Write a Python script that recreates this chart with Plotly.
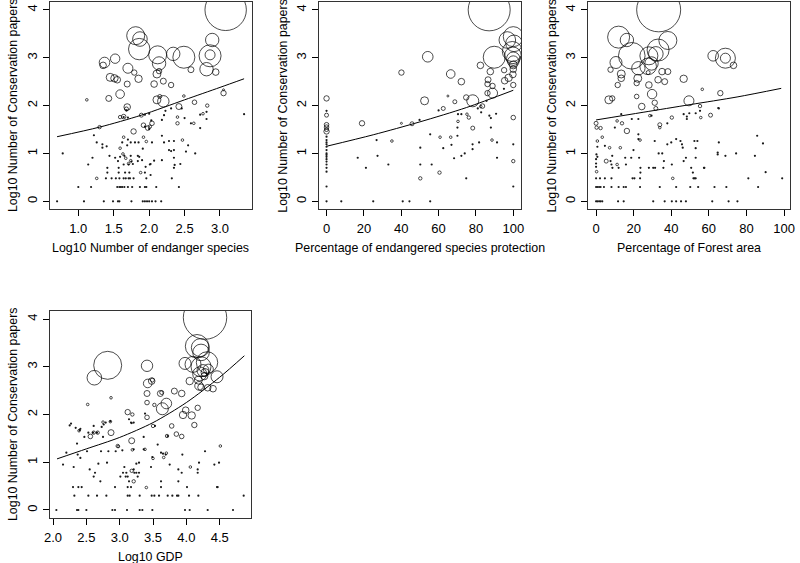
import plotly.graph_objects as go

# ---------------- DATA ----------------
# Panel 1: Log10 Number of endanger species
p1_bx = [3.08,1.81,1.87,1.86,2.12,2.14,2.34,2.49,2.89,2.86,2.86,2.81,2.94,2.59,1.37,1.35,1.52,1.70,1.79,1.45,
         1.51,1.55,1.85,1.59,1.69,1.43,2.11,2.14,2.07,2.20,2.31,2.20,2.11,2.15,2.42,2.64,3.05,3.05,1.12,1.69,
         1.68,1.64,1.59,1.89,1.78,1.92,1.98,2.01,2.04,1.30,2.40,2.40,2.82,2.76,2.63,1.64,1.92,1.96,2.47,1.63,
         1.59,1.67,1.74,1.71,1.26,1.88,2.49]
p1_by = [4.00,3.46,3.39,3.18,3.06,2.88,3.08,3.01,3.37,3.04,3.06,2.76,2.70,2.75,2.90,2.84,2.98,2.78,2.69,2.59,
         2.57,2.54,2.56,2.24,2.45,2.15,2.66,2.72,2.45,2.51,2.43,2.09,2.12,2.19,1.98,2.07,2.26,2.33,2.12,1.97,
         1.93,1.77,1.76,1.80,1.46,1.59,1.53,1.56,1.63,1.55,1.63,1.76,2.00,1.83,1.63,1.34,1.34,1.25,1.28,0.99,
         1.11,0.90,0.85,0.79,0.48,0.60,2.20]
p1_bw = [20.7,9,7.3,10.7,9,6.7,6.7,11,6.7,11,5,6.7,3.3,3,5.3,3.3,4.7,5,2.7,4,
         3.7,3.3,3.7,4.3,3,3,4,2.7,3.3,3,2.7,5.7,4,2,3,2.3,2.7,1,1.3,3.3,
         2,2.3,1.7,2,2.7,2.3,2.3,1.7,2.3,1.7,1.7,1.3,1.7,1.3,1.3,1.3,1.3,1.3,1.3,1.3,
         1.3,1.3,1.3,1.3,1.3,1.3,1.3]
p1_dx = [0.70,1.08,1.36,1.49,1.56,1.58,1.75,1.91,1.94,1.97,2.00,2.04,2.09,2.17,
         1.00,1.18,1.55,1.58,1.60,1.62,1.65,1.70,1.76,1.87,1.94,1.96,2.10,2.42,
         1.39,1.47,1.53,1.58,1.64,1.67,1.71,1.73,1.78,1.96,2.32,
         1.41,1.57,1.66,1.72,1.94,2.02,1.41,1.57,1.95,2.35,1.14,1.64,1.71,1.77,2.01,2.02,2.36,2.44,
         1.56,1.75,1.84,1.90,2.07,2.18,1.20,1.52,2.35,1.44,1.59,1.65,1.74,1.84,1.86,0.78,2.65,2.28,2.35,
         1.34,1.91,1.34,1.40,1.69,2.55,1.26,1.62,1.74,1.80,1.85,2.04,2.21,1.70,2.28,2.35,1.22,2.18,
         1.94,2.00,2.72,2.59,2.03,2.18,2.50,1.64,1.70,2.81,1.94,2.00,2.21,2.72,3.34,2.81,1.68,2.23,2.31,2.46,
         2.31,2.52]
p1_dy = [0]*14 + [0.30]*14 + [0.48]*11 + \
        [0.60,0.60,0.60,0.60,0.60,0.55,0.70,0.70,0.72,0.70,0.77,0.77,0.77,0.78,0.77,0.78,0.76,0.78,
         0.84,0.83,0.84,0.86,0.85,0.86,0.91,0.91,0.91,0.95,0.93,0.95,0.95,0.95,0.93,1.00,1.00,1.07,1.07,
         1.12,1.10,1.19,1.15,1.17,1.17,1.23,1.23,1.23,1.23,1.23,1.23,1.23,1.29,1.26,1.26,1.38,1.37,
         1.56,1.51,1.53,1.63,1.69,1.70,1.74,1.76,1.75,1.72,1.81,1.83,1.80,1.81,1.82,1.87,1.90,1.89,1.94,1.94,
         1.05,1.04]
p1_fit_x = [0.70,1.30,1.89,2.50,3.00,3.34]
p1_fit_y = [1.35,1.55,1.80,2.12,2.38,2.56]

# Panel 2: Percentage of endangered species protection
p2_bx = [87.1,100,96.8,100.4,89.8,99.5,99.8,100,100,100,100,99.8,95.4,100,54.2,40.1,66.5,72.2,82.4,87.7,
         86.5,86.2,88.9,88.9,86.2,95.1,78.3,74.8,68.7,83.5,62.5,52.5,65,0,0,0,0,0,0,19,
         45.8,40.1,35,78.3,76.2,100,70.4,60.8,66.5,88.6,60.5,100,50.2,75.2,82.6,97.5]
p2_by = [4.00,3.44,3.37,3.30,3.01,3.13,3.05,2.98,2.92,2.85,2.76,2.65,2.52,2.43,3.02,2.69,2.66,2.50,2.84,2.71,
         2.54,2.45,2.41,2.26,2.26,2.74,2.10,2.17,2.08,1.99,1.94,2.10,2.20,2.15,1.80,1.60,1.55,1.50,1.46,1.63,
         1.62,1.63,1.26,1.53,1.75,1.75,1.67,1.34,1.34,1.28,0.60,0.84,0.48,1.82,1.98,2.58]
p2_bw = [21,10,8.3,8.3,11,10,8.3,6.7,5.7,4,3.3,3.3,3.3,2.7,5.3,2.7,4.3,3.3,3.3,3.3,
         3,2.7,2.7,5,2.7,2.7,6,2.7,2,2.3,2,4,1,2.7,2,2.3,2.3,2,2.7,2.7,
         2,1,1.3,2,1.7,2.3,1.3,1.3,1.3,1.3,1.7,1.7,1.7,1.3,1.3,3.7]
p2_dx = [0]*17 + [7.9,25,40.8,44.4,55.5,16.7,21.1,26.8,27.3,33.1,49.8,50.2,50.2,55.5,56.3,62.5,60,66.9,68.3,
         70.1,70.1,70.4,72.2,72.2,74,74.8,78.2,78.2,81,81.7,82.8,87.2,88,88,90.8,91.3,91.3,100,100,95,85.7]
p2_dy = [1.89,1.35,1.28,1.23,1.19,1.14,1.07,1.00,0.97,0.93,0.88,0.83,0.77,0.70,0.62,0.31,0.00] + \
        [0,0,0,0,0,0.91,0.70,1.28,0.95,0.77,1.70,1.12,0.77,1.40,0.77,1.11,1.90,1.18,0.90,
         1.54,1.37,1.82,1.82,0.95,1.00,0.48,1.19,1.09,1.94,1.23,1.86,1.79,1.54,1.74,1.83,1.23,0.91,1.19,0.31,2.35,2.10]
p2_fit_x = [0,25,50,75,100]
p2_fit_y = [1.15,1.39,1.66,1.96,2.32]

# Panel 3: Percentage of Forest area
p3_bx = [33.3,12.0,16.4,38.2,19.0,28.1,33.0,31.8,29.5,27.7,22.5,10.6,62.3,68.8,68.8,73.1,7.7,13.4,13.4,22.2,
         21.6,35.1,38.2,27.7,33.0,36.5,28.1,46.6,11.5,29.8,21.6,31.2,24.3,6.8,8.6,49.4,56.5,66.1,55.3,0,
         0.3,2.4,11.2,13.8,16.4,28.6,33.9,33.9,40.3,55.7,60.9,0.7,3.3,7.2,12.9,0.3,5.4,11.2,23.4,40.8,31.8]
p3_by = [4.00,3.43,3.37,3.36,3.04,3.04,3.16,3.08,2.88,2.82,2.78,2.90,3.04,2.99,2.99,2.84,2.75,2.66,2.57,2.57,
         2.47,2.71,2.71,2.69,2.54,2.50,2.43,2.56,2.43,2.24,2.19,2.06,1.98,2.12,2.15,2.10,2.34,2.26,1.99,1.63,
         1.54,1.53,1.68,1.63,1.47,1.79,1.60,1.54,1.75,1.75,1.80,1.26,1.34,1.12,1.12,0.62,0.84,0.77,1.28,0.48,1.94]
p3_bw = [22,11,6.7,9,13.3,9,11,7.3,6.7,8.3,6.7,6,5.3,10,5,3.3,2.7,4,3.3,4,
         2.7,3.3,3,2,3.3,3,3.3,3.7,2.7,4.7,2.3,2.7,3.3,4,2.7,5,1.3,2.7,1.7,2,
         1.7,1.7,1.3,1.7,2.7,1.3,2,1.3,1.7,1.3,2,1.3,1.3,1.3,1.3,1.3,2,1.3,1.3,1.3,2]
p3_dx = [0,2.1,4.7,8.2,19.4,20.4,23.4,51.8,53,81,99] + \
        [0,0.7,1.6,2.4,4.2,8.2,12,14.7,15.9,23.4,33.9,42.6,50.1,54.3,63,69.3,86.2] + \
        [0,0.7,1.6,2.4,3.3,11.7,14.7,30.4,36.5,40.3,42.6,45.2,47.8,61.8,70.5,75.2] + \
        [13.4,10,19,22.5,29.5,37.9,46.6,48.3,48.3,49.6,53,55.3,65.3,4.7,0.7,0.2,0.7,0,0,0,
         7.7,8.2,12,8.6,15.5,15.9,18.7,22.9,19.9,22.5,22.5,28.1,30.4,31.2,33.3,36.1,37.9,40.3,40,42.6,
         44.9,45.7,46.1,46.6,47.8,52.3,53,53.9,53,57.4,64.7,64.7,65.3,68.8,74.5,84.5,85.7,88.8,90.2,23.6,
         51.5,8.7,23.6,31.4,35.8,50.6,57.6,52.4,65,35.2]
p3_dy = [0.48]*11 + [0.30]*17 + [0]*16 + \
        [1.82,1.54,1.72,1.72,1.79,1.63,1.82,1.77,1.72,1.84,1.84,1.89,1.94,1.16,1.14,0.98,0.93,0.88,0.79,0.72,
         0.84,0.77,0.70,0.95,0.91,0.77,0.91,0.91,1.07,1.40,1.30,0.70,0.70,1.26,1.00,0.84,1.19,0.77,1.23,1.30,
         1.26,1.19,1.12,0.84,0.91,1.26,1.11,1.26,0.91,0.70,1.02,0.98,1.23,0.95,1.00,0.95,1.37,1.21,0.61,0.60,
         0.60,0.70,0.70,0.70,0.70,0.70,0.70,0.48,1.95,1.00]
p3_fit_x = [0,25,50,75,98.5]
p3_fit_y = [1.70,1.86,2.02,2.18,2.36]

# Panel 4: Log10 GDP
p4_bx = [4.28,4.16,4.21,4.22,2.82,2.62,3.41,3.42,3.48,3.49,3.98,4.31,4.22,4.10,4.25,4.20,4.28,4.33,4.27,4.46,
         4.18,4.05,4.19,4.22,4.32,4.40,2.87,2.52,3.41,3.61,3.63,3.82,3.93,3.70,3.64,3.41,3.52,3.99,4.17,3.12,
         3.19,3.41,3.50,3.95,4.08,4.12,3.78,3.85,3.93,3.71,2.87,2.56,2.61,2.67,3.18,2.97,2.75,2.39,2.86,3.19,
         3.38,3.50,3.70,3.66,3.18,3.21,3.40,4.51,4.06,2.98]
p4_by = [4.03,3.43,3.40,3.30,3.03,2.77,3.02,2.65,2.70,2.72,3.07,3.09,3.00,3.05,2.92,2.85,2.88,2.95,2.80,2.79,
         2.72,2.70,2.60,2.57,2.56,2.54,2.35,2.21,2.44,2.44,2.46,2.49,2.44,2.23,2.12,2.25,2.20,2.09,2.14,2.05,
         2.00,1.94,1.76,1.99,1.98,1.78,1.76,1.59,1.54,1.55,1.62,1.54,1.62,1.62,1.45,1.34,1.84,1.66,1.85,1.26,
         1.27,1.08,1.19,1.10,0.82,0.60,0.47,1.34,0.90,1.33]
p4_bw = [21.7,11.7,9,8.3,14,7.3,5.7,4.3,3.3,2,6,10.7,10,8,6,7,4,5,3.5,6,
         4,3.7,4.3,3.3,3.3,3.3,1.3,1.3,3,3,2,3,3.3,5.3,6,2.3,1.7,3.3,2.7,2.7,
         1.7,2.3,1.7,3.7,3.7,2.7,2.3,2.3,2.3,1.7,3,2.3,1.7,1.7,3,1.7,1.3,1.3,1.3,1.3,
         1.3,1.3,1.3,1.3,1.7,1.7,1.3,1.3,1.3,1.3]
p4_dx = [2.05,2.36,2.38,2.50,2.89,2.93,3.11,3.30,3.34,3.49,3.98,4.05,4.32,4.70] + \
        [2.32,2.53,2.66,2.80,3.12,3.15,3.30,3.48,3.52,3.59,3.72,3.79,3.86,3.88,4.04,4.18,4.86] + \
        [2.30,2.38,2.43,2.93,3.12,3.17,3.62,4.01,4.46,4.47] + \
        [2.71,3.14,3.62,3.88,2.61,3.01,3.09,3.12,3.27,2.63,3.05,3.10,3.22,3.25,3.29,3.93,4.17,2.55,3.21,3.88,
         4.17,2.15,2.31,2.68,2.81,3.07,3.25,3.29,3.47,3.75,4.19,4.42,4.49,2.20,2.37,2.41,2.51,2.72,2.83,2.94,
         3.04,3.21,3.36,3.49,3.62,3.65,3.69,3.94,4.28,2.36,2.47,2.53,2.60,2.66,2.75,3.36,3.57,3.72,2.25,2.27,
         2.34,2.40,2.41,2.61,2.73,2.76,2.79,2.86,3.17,3.21,3.53,3.38,3.14,3.18]
p4_dy = [0]*14 + [0.30]*17 + [0.48]*10 + \
        [0.60,0.60,0.60,0.60,0.70,0.70,0.70,0.70,0.70,0.78,0.78,0.78,0.78,0.78,0.78,0.78,0.78,0.85,0.85,0.85,
         0.85,0.95,0.90,0.97,0.99,0.90,0.97,0.99,0.90,0.95,0.99,0.95,0.99,1.20,1.16,1.09,1.23,1.23,1.23,1.23,
         1.25,1.27,1.27,1.11,1.20,1.18,1.16,1.16,1.23,1.39,1.53,1.62,1.62,1.62,1.53,1.53,1.37,1.55,1.77,1.81,
         1.72,1.67,1.70,1.76,1.74,1.79,1.83,1.86,1.83,1.83,1.76,2.02,1.90,1.82]
p4_fit_x = [2.06,2.5,3.0,3.5,4.0,4.5,4.87]
p4_fit_y = [1.07,1.28,1.52,1.83,2.25,2.78,3.23]

y_ticks = [0, 1, 2, 3, 4]
y_title = "Log10 Number of Conservation papers"
panels = [
    dict(bx=p1_bx, by=p1_by, bw=p1_bw, dx=p1_dx, dy=p1_dy, fx=p1_fit_x, fy=p1_fit_y,
         xticks=[1.0, 1.5, 2.0, 2.5, 3.0], xtext=["1.0", "1.5", "2.0", "2.5", "3.0"],
         xtitle="Log10 Number of endanger species"),
    dict(bx=p2_bx, by=p2_by, bw=p2_bw, dx=p2_dx, dy=p2_dy, fx=p2_fit_x, fy=p2_fit_y,
         xticks=[0, 20, 40, 60, 80, 100], xtext=["0", "20", "40", "60", "80", "100"],
         xtitle="Percentage of endangered species protection"),
    dict(bx=p3_bx, by=p3_by, bw=p3_bw, dx=p3_dx, dy=p3_dy, fx=p3_fit_x, fy=p3_fit_y,
         xticks=[0, 20, 40, 60, 80, 100], xtext=["0", "20", "40", "60", "80", "100"],
         xtitle="Percentage of Forest area"),
    dict(bx=p4_bx, by=p4_by, bw=p4_bw, dx=p4_dx, dy=p4_dy, fx=p4_fit_x, fy=p4_fit_y,
         xticks=[2.0, 2.5, 3.0, 3.5, 4.0, 4.5], xtext=["2.0", "2.5", "3.0", "3.5", "4.0", "4.5"],
         xtitle="Log10 GDP"),
]

# ---------------- LAYOUT (pixels) ----------------
W, H = 800, 563
boxes = [  # left, right, top, bottom in px
    (44.3, 249.3, 1.7, 209.0),
    (317.7, 522.3, 1.7, 209.0),
    (590.3, 795.0, 1.7, 209.0),
    (44.3, 248.3, 310.7, 518.0),
]
xranges = [[0.596, 3.45], [-3.86, 104.2], [-4.19, 103.2], [1.95, 4.968]]
yranges = [[-0.16, 4.17], [-0.16, 4.17], [-0.16, 4.17], [-0.168, 4.174]]

FONT = "Liberation Sans, Arial, Helvetica, sans-serif"
fig = go.Figure()
annotations = []
for i, (p, box) in enumerate(zip(panels, boxes)):
    n = "" if i == 0 else str(i + 1)
    xa, ya = "x" + n, "y" + n
    fig.add_trace(go.Scatter(x=p["fx"], y=p["fy"], mode="lines", xaxis=xa, yaxis=ya,
                             line=dict(color="black", width=1, shape="spline", smoothing=0.8),
                             hoverinfo="skip", showlegend=False))
    fig.add_trace(go.Scatter(x=p["dx"], y=p["dy"], mode="markers", xaxis=xa, yaxis=ya,
                             marker=dict(symbol="circle", size=2.2, color="#1a1a1a",
                                         line=dict(width=0)),
                             showlegend=False))
    fig.add_trace(go.Scatter(x=p["bx"], y=p["by"], mode="markers", xaxis=xa, yaxis=ya,
                             marker=dict(symbol="circle-open", size=[2 * w for w in p["bw"]],
                                         color="black", line=dict(width=1, color="black")),
                             showlegend=False))
    l, r, t, b = box
    common = dict(showgrid=False, zeroline=False, showline=True, mirror=True,
                  linecolor="#333", linewidth=1, ticks="outside", ticklen=6, tickwidth=1,
                  tickcolor="black", tickfont=dict(family=FONT, size=13, color="black"))
    fig.update_layout(**{
        ("xaxis" + n): dict(domain=[l / W, r / W], range=xranges[i], anchor=ya,
                            tickmode="array", tickvals=p["xticks"], ticktext=p["xtext"],
                            ticklabelstandoff=1, **common),
        ("yaxis" + n): dict(domain=[1 - b / H, 1 - t / H], range=yranges[i], anchor=xa,
                            tickmode="array", tickvals=y_ticks, ticktext=[str(v) for v in y_ticks],
                            tickangle=-90, ticklabelstandoff=1, **common),
    })
    annotations.append(dict(text=p["xtitle"], x=(l + r) / 2 / W, y=1 - (b + 38.5) / H,
                            xref="paper", yref="paper", showarrow=False,
                            xanchor="center", yanchor="middle",
                            font=dict(family=FONT, size=12.4, color="black")))
    annotations.append(dict(text=y_title, x=(l - 36.5) / W, y=1 - (t + b) / 2 / H,
                            xref="paper", yref="paper", showarrow=False, textangle=-90,
                            xanchor="center", yanchor="middle",
                            font=dict(family=FONT, size=12.4, color="black")))

fig.update_layout(width=W, height=H, margin=dict(l=0, r=0, t=0, b=0),
                  paper_bgcolor="white", plot_bgcolor="white",
                  annotations=annotations, showlegend=False)
fig.write_html("out.html", config={"displayModeBar": False},
               post_script="document.body.style.margin='0';document.body.style.overflow='hidden';")
